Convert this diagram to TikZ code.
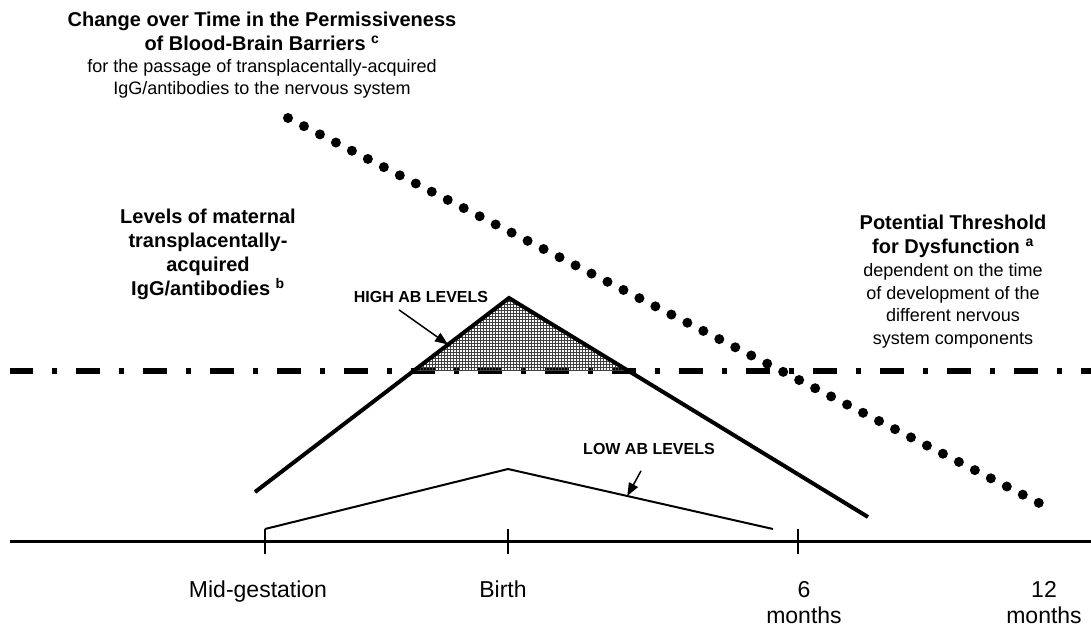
\documentclass[tikz,border=0pt]{standalone}
\usepackage{fontspec}
\setmainfont{Liberation Sans}
\usetikzlibrary{arrows.meta,patterns,calc,positioning}
\tikzset{
    headsty/.style={font=\bfseries\fontsize{20}{24}\selectfont, align=center, inner sep=0pt},
    bodysty/.style={font=\fontsize{18}{22.5}\selectfont, align=center, inner sep=0pt},
    tagsty/.style={font=\bfseries\fontsize{16}{18}\selectfont, inner sep=0pt},
    axlblsty/.style={font=\fontsize{23}{26}\selectfont, align=center, inner sep=0pt, anchor=north},
    axissty/.style={line width=3pt},
    ticksty/.style={line width=2.5pt},
    highsty/.style={line width=4pt, line join=miter},
    lowsty/.style={line width=2pt},
    threshsty/.style={line width=6pt, dash pattern=on 5pt off 19pt on 24pt off 19pt, dash phase=25pt},
    dotsty/.style={line width=10pt, line cap=round, dash pattern=on 0pt off 17.95pt},
    shadesty/.style={pattern=grid, pattern color=black!75},
    arrsty/.style={line width=1.5pt, -{Triangle[length=13pt,width=10pt]}},
}

\begin{document}
\begin{tikzpicture}[x=1pt, y=-1pt]
  \path[fill=white, use as bounding box] (0,0) rectangle (1091,631);

  % texts
  \node[headsty, anchor=north] (bbbhead) at (262,12) {Change over Time in the Permissiveness\\of Blood-Brain Barriers \textsuperscript{c}};
  \node[bodysty, below=8pt of bbbhead] (bbbbody) {for the passage of transplacentally-acquired\\IgG/antibodies to the nervous system};
  \node[headsty, anchor=north] (ablevel) at (208,209) {Levels of maternal\\transplacentally-\\acquired\\IgG/antibodies \textsuperscript{b}};
  \node[headsty, anchor=north] (threshhead) at (953,215) {Potential Threshold\\for Dysfunction \textsuperscript{a}};
  \node[bodysty, below=5.5pt of threshhead] (threshbody) {dependent on the time\\of development of the\\different nervous\\system components};
  \node[tagsty] (highlbl) at (421,297) {HIGH AB LEVELS};
  \node[tagsty] (lowlbl) at (649,449) {LOW AB LEVELS};

  % curve corners
  \coordinate (hl) at (255,492);
  \coordinate (hp) at (509,298);
  \coordinate (hr) at (868,517);
  \coordinate (ll) at (265,529);
  \coordinate (lp) at (508,469);
  \coordinate (lr) at (773,529);
  \coordinate (sl) at ($(hl)!0.624!(hp)$);
  \coordinate (sr) at ($(hp)!0.333!(hr)$);
  \coordinate (hightip) at ($(hl)!0.76!(hp)$);
  \coordinate (lowtip) at ($(lp)!0.45!(lr)$);
  \coordinate (dtop) at (288,118);
  \coordinate (dbot) at (1039,503);
  \coordinate (thl) at (10,371);
  \coordinate (thr) at (1091,371);
  \coordinate (axl) at (10,541);
  \coordinate (axr) at (1091,541);

  \draw[threshsty] (thl) -- (thr);
  \fill[shadesty] (sl) -- (hp) -- (sr) -- cycle;
  \draw[highsty] (hl) -- (hp) -- (hr);
  \draw[lowsty] (ll) -- (lp) -- (lr);
  \draw[dotsty] (dtop) -- (dbot);

  \draw[arrsty] ([xshift=-22pt,yshift=-7pt]highlbl.south) -- (hightip);
  \draw[arrsty] ([xshift=-8pt,yshift=-16pt]lowlbl.south) -- (lowtip);

  % time axis
  \draw[axissty] (axl) -- (axr);
  \foreach \x in {265,508,798}
    \draw[ticksty] (\x,529) -- (\x,554);
  \node[axlblsty] (lblmid) at (258,581) {Mid-gestation};
  \node[axlblsty] (lblbirth) at (503,581) {Birth};
  \node[axlblsty] (lblsix) at (804,581) {6\\months};
  \node[axlblsty] (lbltwelve) at (1044,581) {12\\months};
\end{tikzpicture}
\end{document}
